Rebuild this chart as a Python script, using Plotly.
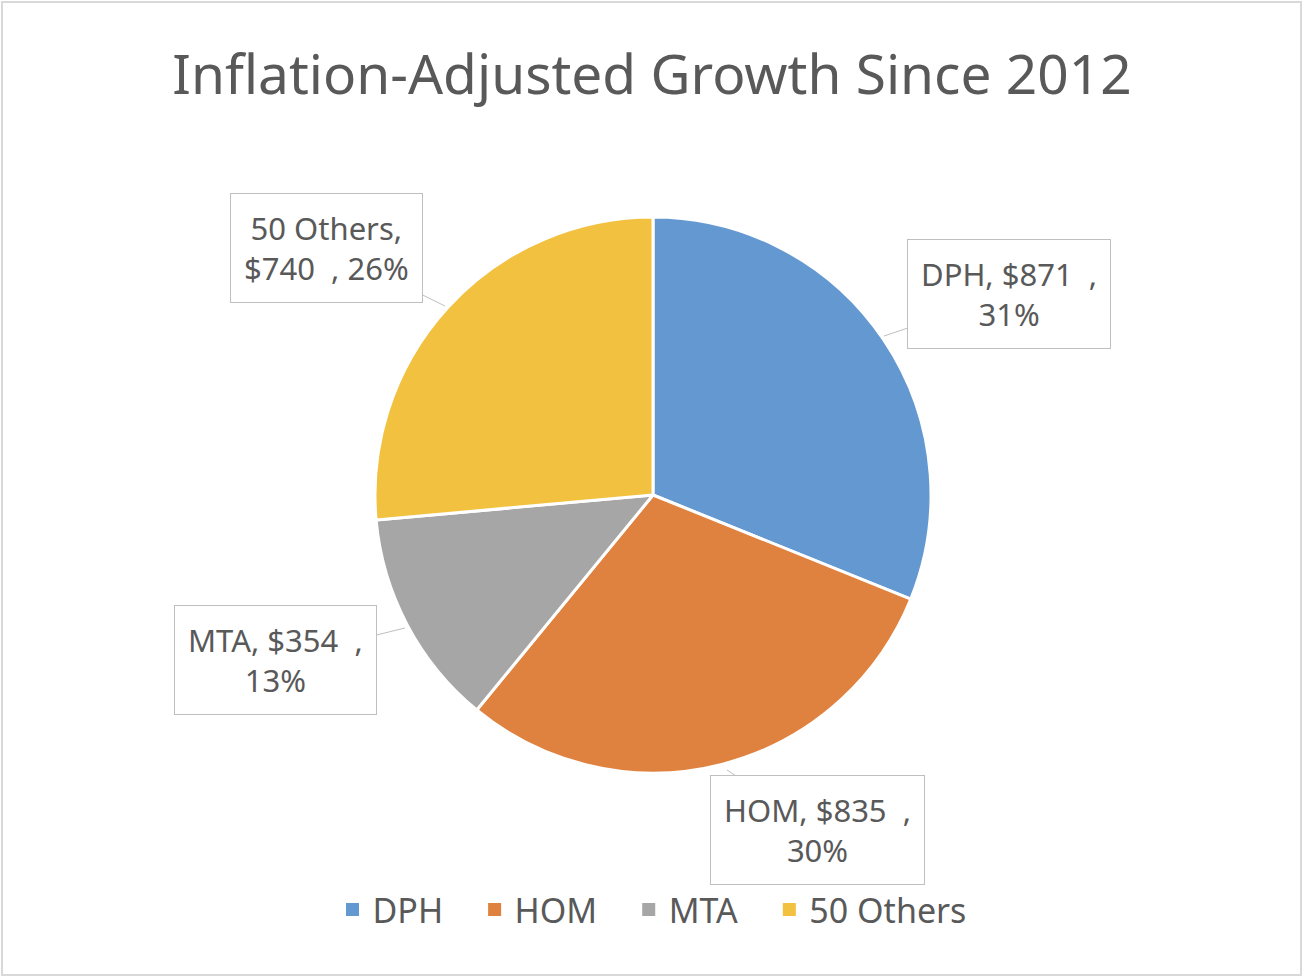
import plotly.graph_objects as go

# ---- data ----
categories = ["DPH", "HOM", "MTA", "50 Others"]
values = [871, 835, 354, 740]
colors = ["#6498D0", "#E0823F", "#A6A6A6", "#F2C13F"]
# label line layout (where the break goes), per category
label_break_after_name = [False, False, False, True]

title_text = "Inflation-Adjusted Growth Since 2012"

W, H = 1304, 980
FONT = "Noto Sans"
TEXT_COLOR = "#595959"
SP = "\u00a0"

total = sum(values)
pcts = [round(v / total * 100) for v in values]


def label_text(name, val, pct, brk):
    if brk:
        return f"{name},<br>${val}{SP}{SP}, {pct}%"
    return f"{name}, ${val}{SP}{SP},<br>{pct}%"


fig = go.Figure()
fig.add_trace(go.Pie(
    labels=categories,
    values=values,
    sort=False,
    direction="clockwise",
    rotation=0,
    marker=dict(colors=colors, line=dict(color="white", width=3)),
    textinfo="none",
    hoverinfo="label+value+percent",
    showlegend=False,
    domain=dict(x=[(653 - 278) / W, (653 + 278) / W],
                y=[1 - 773 / H, 1 - 217 / H]),
))

# legend entries (square swatches), one per category
for i, (cat, col) in enumerate(zip(categories, colors)):
    pad = SP * 3 if i < len(categories) - 1 else ""
    fig.add_trace(go.Scatter(
        x=[None], y=[None], mode="markers", name=cat + pad,
        marker=dict(symbol="square", size=13, color=col),
        showlegend=True, hoverinfo="skip",
    ))

# label boxes: (arrow tip px, box center px)
label_pos = [
    ((884, 336), (1009, 294)),
    ((727, 770), (818, 830)),
    ((405, 628), (275, 660)),
    ((445, 306), (327, 248)),
]

for i, (cat, val, pct) in enumerate(zip(categories, values, pcts)):
    (tx, ty), (bx, by) = label_pos[i]
    fig.add_annotation(
        x=tx / W, y=1 - ty / H, xref="paper", yref="paper",
        text=label_text(cat, val, pct, label_break_after_name[i]),
        showarrow=True, arrowhead=0, arrowwidth=1, arrowcolor="#BFBFBF",
        ax=bx - tx, ay=by - ty,
        font=dict(family=FONT, size=31, color=TEXT_COLOR),
        bordercolor="#BFBFBF", borderwidth=1, borderpad=13,
        bgcolor="white", align="center",
    )

# outer chart border
fig.add_shape(type="rect", xref="paper", yref="paper",
              x0=2 / W, x1=1 - 3 / W, y0=5 / H, y1=1 - 2 / H,
              line=dict(color="#D9D9D9", width=2))

fig.update_layout(
    width=W, height=H,
    margin=dict(l=0, r=0, t=0, b=0),
    paper_bgcolor="white", plot_bgcolor="white",
    xaxis=dict(visible=False), yaxis=dict(visible=False),
    title=dict(text=title_text, x=0.5, xanchor="center",
               y=1 - 75 / H, yanchor="middle", yref="container",
               font=dict(family=FONT, size=55, color=TEXT_COLOR)),
    showlegend=True,
    legend=dict(orientation="h", x=0.5, xanchor="center",
                y=1 - 910 / H, yanchor="middle",
                font=dict(family=FONT, size=34, color=TEXT_COLOR),
                itemwidth=30, traceorder="normal"),
)

fig.write_html("out.html",
               config={"displayModeBar": False},
               post_script="document.body.style.margin='0';document.body.style.padding='0';")
